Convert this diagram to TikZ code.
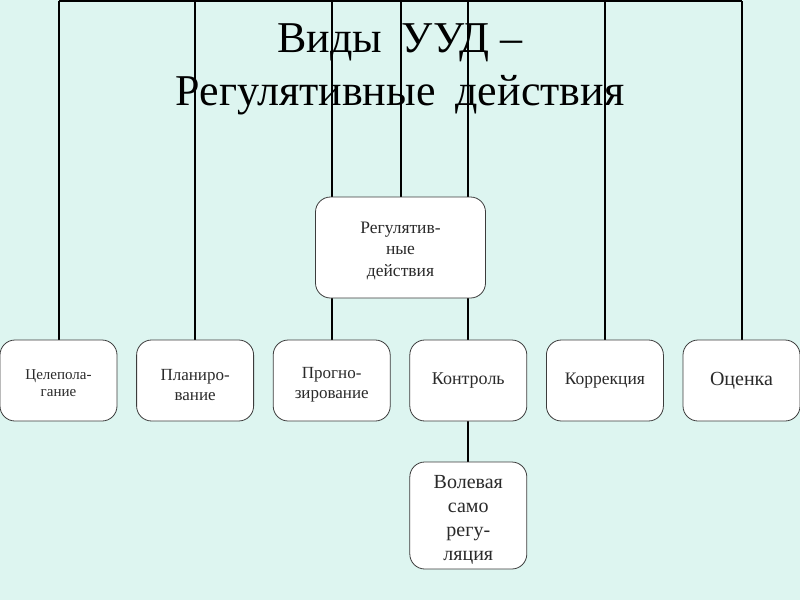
\documentclass[tikz,border=0pt]{standalone}
\usepackage{fontspec}
\setmainfont{Liberation Serif}
\usetikzlibrary{backgrounds}
\begin{document}
\begin{tikzpicture}[x=1pt, y=1pt, node distance=136.6pt]
    \definecolor{back-color}{HTML}{DDF5F0}
    \definecolor{edge-color}{HTML}{3C3C3C}
    \definecolor{word-color}{HTML}{2A2A2A}
    \tikzstyle{every node}=[font=\fontsize{17}{20}\selectfont, text=word-color]
    \tikzstyle{box} = [rectangle, draw=edge-color, line width=0.8pt, fill=white, text width=112pt, align=center, rounded corners=15pt, minimum width=117pt, minimum height=81pt, inner sep=0pt]
    \tikzstyle{link} = [line width=2pt, black]
    \useasboundingbox (0,0) rectangle (800,-600);
        \node (reg) [box, minimum width=170pt, minimum height=101pt, font=\fontsize{17.5}{21.5}\selectfont] at (400.5,-247.5) {\rule{0pt}{18pt}Регулятив-\\ные\\действия};
        \node (box1) [box, font=\fontsize{15}{17}\selectfont] at (58.5,-380.5) {\rule{0pt}{15pt}Целепола-\\гание};
        \node (box2) [box, right of=box1] {\rule{0pt}{20pt}Планиро-\\вание};
        \node (box3) [box, right of=box2] {\rule{0pt}{20pt}Прогно-\\зирование};
        \node (box4) [box, right of=box3, font=\fontsize{18}{18}\selectfont] {Контроль};
        \node (box5) [box, right of=box4, font=\fontsize{17.5}{18}\selectfont] {Коррекция};
        \node (box6) [box, right of=box5, font=\fontsize{20}{18}\selectfont] {Оценка};
        \node (will) [box, below of=box4, yshift=1.6pt, minimum height=107pt, font=\fontsize{20}{24}\selectfont] {\rule{0pt}{21pt}Волевая\\само\\регу-\\ляция};
        \begin{scope}[on background layer]
            \fill[back-color] (0,0) rectangle (800,-600);
            \node (title) at (400,-69) [font=\fontsize{44}{53}\selectfont, text=black, align=center] {Виды\hspace{20pt}УУД –\\Регулятивные\hspace{20pt}действия};
            \foreach \i in {1,...,6} {
                \coordinate (top\i) at (box\i.north |- 0,-1);
                \draw[link] (top\i) -- (box\i.north);
            }
            \coordinate (topc) at (reg.north |- 0,-1);
            \draw[link] (top1) -- (top6);
            \draw[link] (topc) -- (reg.north);
            \draw[link] (box4.south) -- (will.north);
        \end{scope}
\end{tikzpicture}
\end{document}
